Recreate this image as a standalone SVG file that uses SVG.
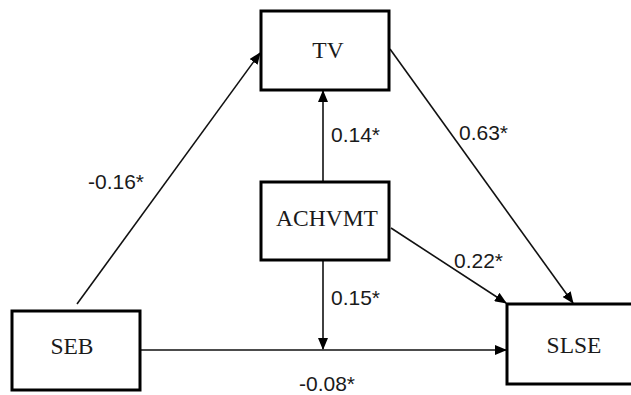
<svg xmlns="http://www.w3.org/2000/svg" width="631" height="395" viewBox="0 0 631 395">
<style>
.box{fill:#fff;stroke:#000;stroke-width:3}
.node{font-family:"Liberation Serif","Times New Roman",serif;font-size:23.5px;fill:#1a1a1a;text-anchor:middle}
.lbl{font-family:"Liberation Sans",Arial,sans-serif;font-size:21px;fill:#1a1a1a}
.edge{stroke:#111;stroke-width:1.6;fill:none;marker-end:url(#ah)}
</style>
<defs>
<marker id="ah" markerWidth="12" markerHeight="10" refX="11" refY="5" orient="auto" markerUnits="userSpaceOnUse">
<path d="M0,0 L12,5 L0,10 Z" fill="#000"/>
</marker>
</defs>
<rect width="631" height="395" fill="#fff"/>
<g id="connectors">
<line class="edge" x1="77" y1="304" x2="260" y2="53"/>
<line class="edge" x1="323" y1="182" x2="323" y2="91"/>
<line class="edge" x1="323" y1="260" x2="323" y2="349"/>
<line class="edge" x1="140" y1="350" x2="506" y2="350"/>
<line class="edge" x1="390" y1="49" x2="573" y2="303"/>
<line class="edge" x1="391" y1="228" x2="506" y2="303"/>
</g>
<g id="TV"><rect class="box" x="261" y="11" width="128" height="79"/><text class="node" x="328" y="58">TV</text></g>
<g id="ACHVMT"><rect class="box" x="261" y="182" width="128" height="78"/><text class="node" x="327" y="226">ACHVMT</text></g>
<g id="SEB"><rect class="box" x="12" y="311" width="128" height="79"/><text class="node" x="72" y="354">SEB</text></g>
<g id="SLSE"><rect class="box" x="507" y="304" width="140" height="80"/><text class="node" x="574" y="353">SLSE</text></g>
<g id="labels">
<text class="lbl" x="88" y="189">-0.16*</text>
<text class="lbl" x="331" y="142">0.14*</text>
<text class="lbl" x="459" y="140">0.63*</text>
<text class="lbl" x="454" y="268">0.22*</text>
<text class="lbl" x="331" y="305">0.15*</text>
<text class="lbl" x="299" y="391">-0.08*</text>
</g>
</svg>
